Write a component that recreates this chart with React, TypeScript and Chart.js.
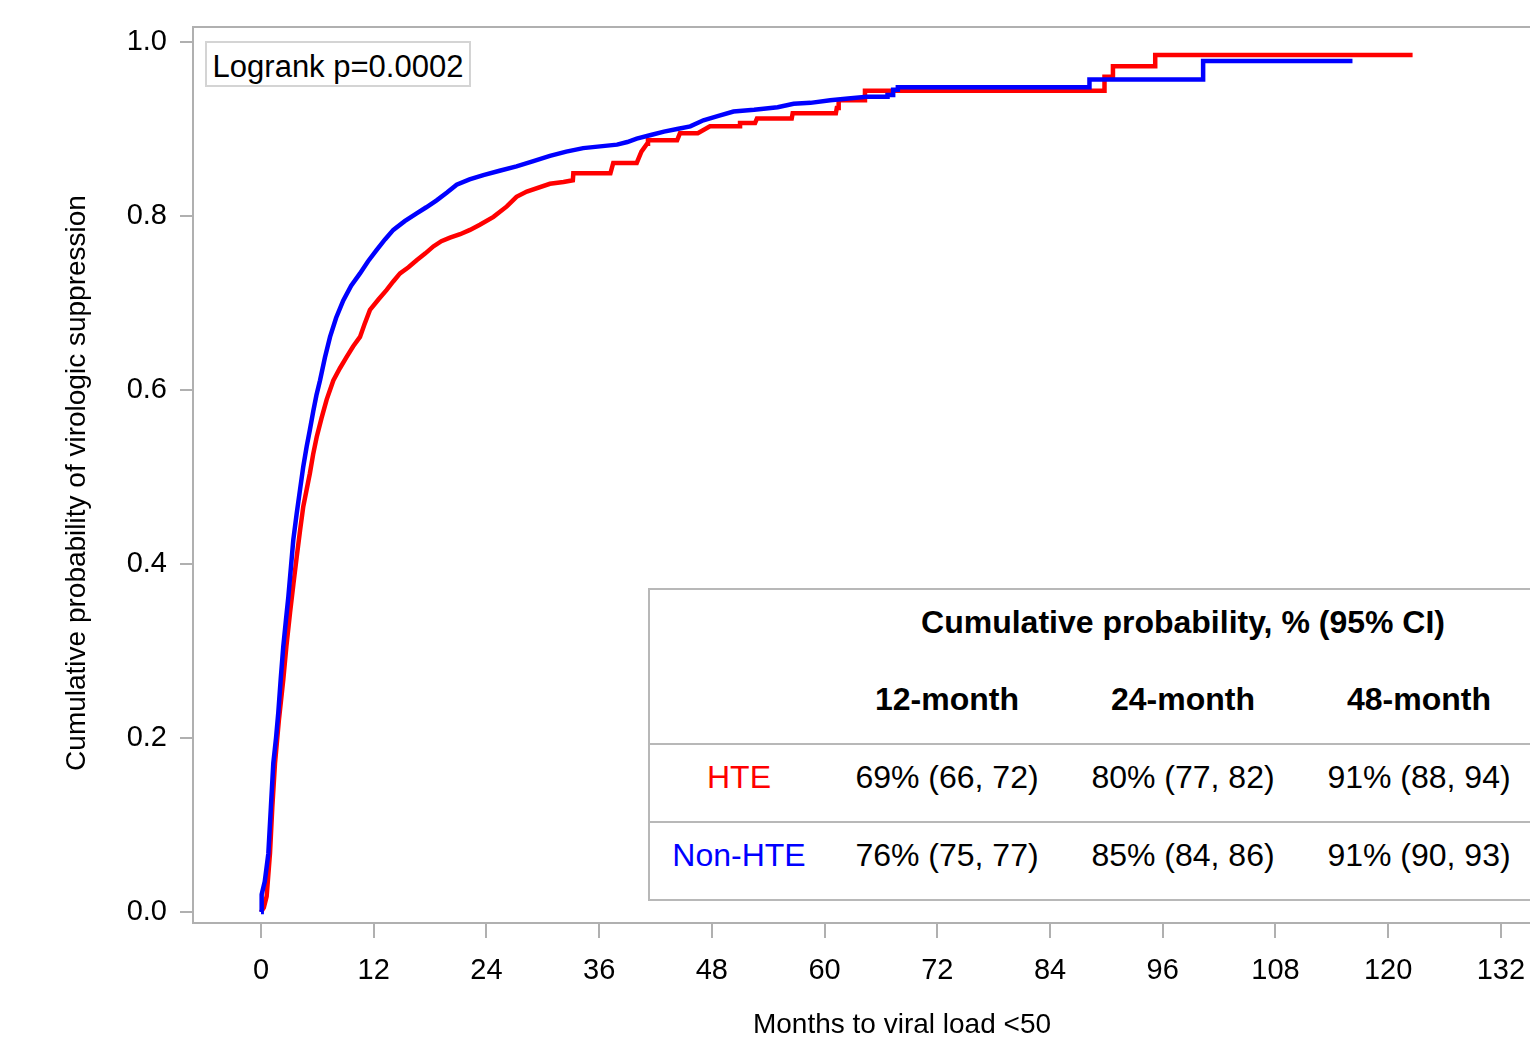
import React, { useEffect, useRef } from "react";
import { Chart, registerables } from "chart.js";

Chart.register(...registerables);

// ---- Data: vertices of the cumulative-incidence curves ----
const nonHteMonths = [
  0, 0.07, 0.4, 0.78, 1.05, 1.31, 1.6, 1.84, 2.1, 2.37, 2.65, 2.91, 3.2, 3.44, 3.8, 4.15, 4.5, 4.86,
  5.2, 5.57, 5.9, 6.28, 6.8, 7.35, 8.0, 8.76, 9.6, 10.54, 11.4, 12.32, 13.2, 14.09, 15.3, 16.57,
  17.6, 18.7, 19.8, 20.83, 22.2, 23.67, 25.4, 27.2, 29.0, 30.76, 32.5, 34.3, 36.1, 37.9, 39.0,
  40.0, 41.5, 42.9, 44.3, 45.7, 47.1, 48.7, 50.3, 52.5, 55.0, 56.7, 58.5, 60.6, 62.5, 64.5,
  66.7, 66.7, 67.3, 67.3, 67.8, 67.8, 88.2, 88.2, 100.3, 100.3, 116.2,
];
const nonHteProb = [
  0, 0.02, 0.035, 0.067, 0.12, 0.171, 0.2, 0.229, 0.268, 0.305, 0.335, 0.362, 0.398, 0.428, 0.458,
  0.485, 0.512, 0.535, 0.554, 0.576, 0.594, 0.611, 0.637, 0.661, 0.683, 0.703, 0.72, 0.734, 0.748,
  0.761, 0.773, 0.784, 0.794, 0.803, 0.81, 0.818, 0.827, 0.836, 0.842, 0.847, 0.852, 0.857, 0.863,
  0.869, 0.874, 0.878, 0.88, 0.882, 0.885, 0.889, 0.893, 0.897, 0.9, 0.903, 0.91, 0.915, 0.92,
  0.922, 0.925, 0.929, 0.93, 0.933, 0.935, 0.937,
  0.937, 0.939, 0.939, 0.945, 0.945, 0.948, 0.948, 0.957, 0.957, 0.978, 0.978,
];

const hteMonths = [
  0, 0.3, 0.6, 0.96, 1.2, 1.49, 1.9, 2.37, 2.7, 3.09, 3.45, 3.8, 4.15, 4.5, 4.85, 5.2, 5.55, 5.93,
  6.45, 6.99, 7.7, 8.4, 9.12, 9.8, 10.54, 11.0, 11.6, 12.5, 13.38, 14.1, 14.8, 15.7, 16.57, 17.5,
  18.35, 19.2, 20.12, 21.2, 22.25, 23.3, 24.75, 26.17, 27.2, 28.3, 30.76, 32.2, 33.2, 33.25, 37.2,
  37.5, 40.0, 40.5, 41.1, 41.2, 44.3, 44.6, 46.5, 47.8, 51.0, 51.0, 52.6, 52.8, 56.5, 56.6, 61.2,
  61.3, 61.5, 61.5, 64.3, 64.3, 89.8, 89.8, 90.7, 90.7, 95.2, 95.2, 122.6,
];
const hteProb = [
  0, 0.005, 0.018, 0.068, 0.12, 0.171, 0.22, 0.267, 0.305, 0.344, 0.377, 0.408, 0.438, 0.466, 0.485,
  0.504, 0.526, 0.546, 0.568, 0.589, 0.611, 0.625, 0.638, 0.65, 0.661, 0.675, 0.692, 0.704, 0.715,
  0.725, 0.734, 0.741, 0.749, 0.757, 0.765, 0.771, 0.775, 0.779, 0.784, 0.79, 0.799, 0.811, 0.822,
  0.828, 0.837, 0.839, 0.841, 0.849, 0.849,
  0.861, 0.861, 0.874, 0.883, 0.887, 0.887, 0.895, 0.895, 0.903, 0.903, 0.907, 0.907, 0.912, 0.912,
  0.918, 0.918, 0.924, 0.924, 0.933, 0.933, 0.944, 0.944, 0.96, 0.96, 0.972, 0.972, 0.985, 0.985,
];

const xTicks = [0, 12, 24, 36, 48, 60, 72, 84, 96, 108, 120, 132];
const yTicks = [0, 0.2, 0.4, 0.6, 0.8, 1.0];

const xTitle = "Months to viral load <50";
const yTitle = "Cumulative probability of virologic suppression";
const logrankText = "Logrank p=0.0002";

const tableTitle = "Cumulative probability, % (95% CI)";
const tableColumns = ["12-month", "24-month", "48-month"];
const groupNames = ["HTE", "Non-HTE"];
const groupColors = ["#ff0000", "#0000ff"];
const hteCells = ["69% (66, 72)", "80% (77, 82)", "91% (88, 94)"];
const nonHteCells = ["76% (75, 77)", "85% (84, 86)", "91% (90, 93)"];

const FONT = '"Liberation Sans", Arial, Helvetica, sans-serif';
const AXIS_GRAY = "#b0b0b0";

const axisTitlePlugin = {
  id: "axisTitles",
  afterDraw(chart: any) {
    const { ctx, chartArea } = chart;
    ctx.save();
    // top frame line
    ctx.strokeStyle = AXIS_GRAY;
    ctx.lineWidth = 2;
    ctx.beginPath();
    ctx.moveTo(chartArea.left - 1, chartArea.top);
    ctx.lineTo(chartArea.right, chartArea.top);
    ctx.stroke();
    // axis titles
    ctx.fillStyle = "#000";
    ctx.font = `28px ${FONT}`;
    ctx.textAlign = "center";
    ctx.textBaseline = "middle";
    ctx.fillText(xTitle, 902, 1025);
    ctx.translate(77, 483);
    ctx.rotate(-Math.PI / 2);
    ctx.fillText(yTitle, 0, 0);
    ctx.restore();
  },
};

function Cell(props: { x: number; y: number; text: string; color?: string; bold?: boolean; size?: number }) {
  return (
    <div
      style={{
        position: "absolute",
        left: props.x,
        top: props.y,
        transform: "translate(-50%, -50%)",
        whiteSpace: "nowrap",
        lineHeight: 1,
        fontFamily: FONT,
        fontSize: props.size || 32,
        fontWeight: props.bold ? "bold" : "normal",
        color: props.color || "#000",
      }}
    >
      {props.text}
    </div>
  );
}

export default function App() {
  const canvasRef = useRef<HTMLCanvasElement | null>(null);

  useEffect(() => {
    if (!canvasRef.current) return;
    const chart = new Chart(canvasRef.current, {
      type: "line",
      data: {
        datasets: [
          {
            label: groupNames[1],
            data: nonHteMonths.map((m, i) => ({ x: m, y: nonHteProb[i] })),
            borderColor: groupColors[1],
            borderWidth: 4.5,
            pointRadius: 0,
            tension: 0,
            fill: false,
          },
          {
            label: groupNames[0],
            data: hteMonths.map((m, i) => ({ x: m, y: hteProb[i] })),
            borderColor: groupColors[0],
            borderWidth: 4.5,
            pointRadius: 0,
            tension: 0,
            fill: false,
          },
        ],
      },
      options: {
        animation: false,
        responsive: false,
        devicePixelRatio: 1,
        layout: { padding: { left: 0, top: 27, right: 0, bottom: 0 } },
        plugins: { legend: { display: false }, tooltip: { enabled: false } },
        scales: {
          x: {
            type: "linear",
            min: -7.24,
            max: 135.1,
            afterBuildTicks: (s: any) => {
              s.ticks = xTicks.map((v) => ({ value: v }));
            },
            afterFit: (s: any) => {
              s.height = 123;
              s.paddingLeft = 0;
              s.paddingRight = 0;
            },
            ticks: {
              autoSkip: false,
              maxRotation: 0,
              color: "#000",
              padding: 16,
              font: { family: FONT, size: 29 },
            },
            grid: {
              drawOnChartArea: false,
              drawTicks: true,
              tickLength: 15,
              color: AXIS_GRAY,
              lineWidth: 2,
            },
            border: { display: true, color: AXIS_GRAY, width: 2 },
          },
          y: {
            type: "linear",
            min: -0.01264,
            max: 1.0172,
            afterBuildTicks: (s: any) => {
              s.ticks = yTicks.map((v) => ({ value: v }));
            },
            afterFit: (s: any) => {
              s.width = 193;
              s.paddingTop = 0;
              s.paddingBottom = 0;
            },
            ticks: {
              color: "#000",
              padding: 13,
              font: { family: FONT, size: 29 },
              callback: (v: any) => Number(v).toFixed(1),
            },
            grid: {
              drawOnChartArea: false,
              drawTicks: true,
              tickLength: 13,
              color: AXIS_GRAY,
              lineWidth: 2,
            },
            border: { display: true, color: AXIS_GRAY, width: 2 },
          },
        },
      },
      plugins: [axisTitlePlugin],
    });
    return () => chart.destroy();
  }, []);

  const colX = [947, 1183, 1419];

  return (
    <div
      style={{
        position: "absolute",
        left: 0,
        top: 0,
        width: 1530,
        height: 1046,
        overflow: "hidden",
        background: "#fff",
      }}
    >
      <canvas ref={canvasRef} width={1530} height={1046} style={{ display: "block", width: 1530, height: 1046 }} />
      {/* Logrank box */}
      <div
        style={{
          position: "absolute",
          left: 205,
          top: 41,
          width: 262,
          height: 42,
          border: "2px solid #d4d4d4",
          background: "#fff",
        }}
      />
      <Cell x={338} y={66} text={logrankText} size={31} />
      {/* Table */}
      <div
        style={{
          position: "absolute",
          left: 648,
          top: 588,
          width: 1000,
          height: 309,
          borderTop: "2px solid #b8b8b8",
          borderLeft: "2px solid #b8b8b8",
          borderBottom: "2px solid #b8b8b8",
          background: "#fff",
        }}
      />
      <div style={{ position: "absolute", left: 649, top: 743, width: 1000, height: 0, borderTop: "2px solid #b8b8b8" }} />
      <div style={{ position: "absolute", left: 649, top: 821, width: 1000, height: 0, borderTop: "2px solid #b8b8b8" }} />
      <Cell x={1183} y={622} text={tableTitle} bold />
      {tableColumns.map((c, i) => (
        <Cell key={c} x={colX[i]} y={699} text={c} bold />
      ))}
      <Cell x={739} y={777} text={groupNames[0]} color={groupColors[0]} />
      <Cell x={739} y={855} text={groupNames[1]} color={groupColors[1]} />
      {hteCells.map((c, i) => (
        <Cell key={"h" + i} x={colX[i]} y={777} text={c} />
      ))}
      {nonHteCells.map((c, i) => (
        <Cell key={"n" + i} x={colX[i]} y={855} text={c} />
      ))}
    </div>
  );
}
